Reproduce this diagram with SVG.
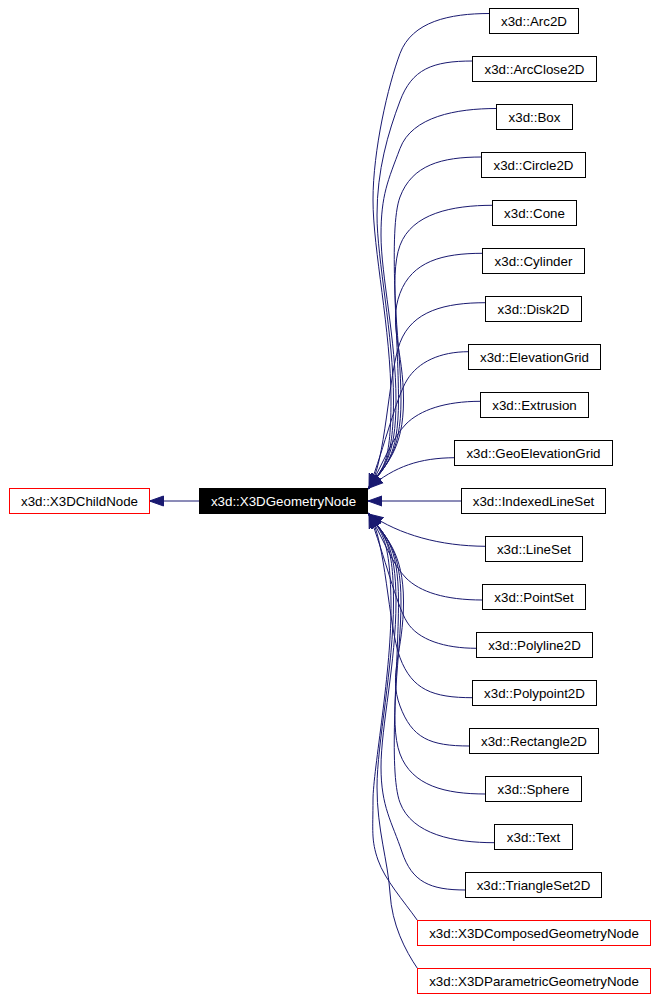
<svg xmlns="http://www.w3.org/2000/svg" width="658" height="999" viewBox="0 0 658 999">
<style>
.n{fill:#ffffff;stroke:#000000;stroke-width:1}
.r{fill:#ffffff;stroke:#ff0000;stroke-width:1}
.m{fill:#000000;stroke:#000000;stroke-width:1}
text{font-family:"Liberation Sans",Arial,sans-serif;font-size:13.33px;text-anchor:middle;fill:#000000}
.w{fill:#ffffff}
.e{fill:none;stroke:#191970;stroke-width:1;marker-end:url(#ah)}
</style>
<defs>
<marker id="ah" markerUnits="userSpaceOnUse" markerWidth="16" markerHeight="12" viewBox="0 0 16 12" refX="14" refY="6" orient="auto">
<path d="M0,1 L14,6 L0,11 z" fill="#191970" stroke="#191970" stroke-width="1"/>
</marker>
</defs>
<rect width="658" height="999" fill="#ffffff"/>
<g id="edges">
<path class="e" d="M199,501 L149.5,501"/>
<path class="e" d="M489.5,13.5 C449.5,13.5 412,21.5 400,53.5 S373,150 373,200 S391,330 391,400 S381,468 369,488"/>
<path class="e" d="M472.5,61 C432.5,61 412,69 400,101 S377,170 377,215 S393.5,335 393.5,400 S382,467 369,488"/>
<path class="e" d="M496.5,108.5 C456.5,108.5 412,116.5 400,148.5 S381,195 381,235 S396,340 396,400 S383,466 369,488"/>
<path class="e" d="M481.5,157 C441.5,157 412,165 400,197 S398.5,340 398.5,400 S384,466 369,488"/>
<path class="e" d="M492.5,205.3 C452.5,205.3 412,213.3 400,245.3 S401,345 401,400 S385,465 369,488"/>
<path class="e" d="M482.5,253.3 C442.5,253.3 412,261.3 400,293.3 S403.5,350 403.5,400 S386,464 369,488"/>
<path class="e" d="M485.5,302.7 C445.5,302.7 412,310.7 400,342.7 S386,463 369,488"/>
<path class="e" d="M468.5,351.7 C440,351.7 418,362 407,380 S385,445 369,488"/>
<path class="e" d="M480.5,401.3 C445,401.3 420,410 406,424 S384,462 369,488"/>
<path class="e" d="M454.5,457.7 C420,458 395,466 369,488"/>
<path class="e" d="M461.5,501 L368,501"/>
<path class="e" d="M485.5,546.3 C440,546 400,535 369,514"/>
<path class="e" d="M482.5,600 C445,600 420,592 406,578 S384,540 369,514"/>
<path class="e" d="M476.5,648.3 C445,648.3 418,640 407,622 S385,557 369,514"/>
<path class="e" d="M472.5,697.7 C432.5,697.7 412,689.7 400,657.7 S386,539 369,514"/>
<path class="e" d="M469.5,746 C429.5,746 412,738 400,706 S403.5,652 403.5,602 S386,538 369,514"/>
<path class="e" d="M485.5,794 C445.5,794 412,786 400,754 S401,657 401,602 S385,537 369,514"/>
<path class="e" d="M494.5,842.7 C454.5,842.7 412,834.7 400,802.7 S398.5,662 398.5,602 S384,536 369,514"/>
<path class="e" d="M465.5,890 C430,890 412,882 402,852 S381,807 381,767 S396,662 396,602 S383,535 369,514"/>
<path class="e" d="M417.5,920.5 C403,900 385,880 378,860 S373,830 373,800 S392,670 391,602 S380,532 369,514"/>
<path class="e" d="M417.5,968.5 C405,950 392,925 390,893 S377,830 377,787 S393.5,667 393.5,602 S382,534 369,514"/>
</g>
<g id="X3DChildNode"><rect class="r" x="9.5" y="488.5" width="140" height="25"/><text x="79.5" y="505.6">x3d::X3DChildNode</text></g>
<g id="X3DGeometryNode"><rect class="m" x="199.5" y="488.5" width="168" height="25"/><text class="w" x="283.5" y="505.6">x3d::X3DGeometryNode</text></g>
<g id="Arc2D"><rect class="n" x="489.5" y="8.5" width="89" height="25"/><text x="534" y="25.6">x3d::Arc2D</text></g>
<g id="ArcClose2D"><rect class="n" x="472.5" y="56.5" width="124" height="25"/><text x="534.5" y="73.6">x3d::ArcClose2D</text></g>
<g id="Box"><rect class="n" x="496.5" y="104.5" width="76" height="25"/><text x="534.5" y="121.6">x3d::Box</text></g>
<g id="Circle2D"><rect class="n" x="481.5" y="152.5" width="104" height="25"/><text x="533.5" y="169.6">x3d::Circle2D</text></g>
<g id="Cone"><rect class="n" x="492.5" y="200.5" width="84" height="25"/><text x="534.5" y="217.6">x3d::Cone</text></g>
<g id="Cylinder"><rect class="n" x="482.5" y="248.5" width="102" height="25"/><text x="533.5" y="265.6">x3d::Cylinder</text></g>
<g id="Disk2D"><rect class="n" x="485.5" y="296.5" width="96" height="25"/><text x="533.5" y="313.6">x3d::Disk2D</text></g>
<g id="ElevationGrid"><rect class="n" x="468.5" y="344.5" width="132" height="25"/><text x="534.5" y="361.6">x3d::ElevationGrid</text></g>
<g id="Extrusion"><rect class="n" x="480.5" y="392.5" width="108" height="25"/><text x="534.5" y="409.6">x3d::Extrusion</text></g>
<g id="GeoElevationGrid"><rect class="n" x="454.5" y="440.5" width="158" height="25"/><text x="533.5" y="457.6">x3d::GeoElevationGrid</text></g>
<g id="IndexedLineSet"><rect class="n" x="461.5" y="488.5" width="144" height="25"/><text x="533.5" y="505.6">x3d::IndexedLineSet</text></g>
<g id="LineSet"><rect class="n" x="485.5" y="536.5" width="97" height="25"/><text x="534" y="553.6">x3d::LineSet</text></g>
<g id="PointSet"><rect class="n" x="482.5" y="584.5" width="103" height="25"/><text x="534" y="601.6">x3d::PointSet</text></g>
<g id="Polyline2D"><rect class="n" x="476.5" y="632.5" width="116" height="25"/><text x="534.5" y="649.6">x3d::Polyline2D</text></g>
<g id="Polypoint2D"><rect class="n" x="472.5" y="680.5" width="124" height="25"/><text x="534.5" y="697.6">x3d::Polypoint2D</text></g>
<g id="Rectangle2D"><rect class="n" x="469.5" y="728.5" width="129" height="25"/><text x="534" y="745.6">x3d::Rectangle2D</text></g>
<g id="Sphere"><rect class="n" x="485.5" y="776.5" width="96" height="25"/><text x="533.5" y="793.6">x3d::Sphere</text></g>
<g id="Text"><rect class="n" x="494.5" y="824.5" width="78" height="25"/><text x="533.5" y="841.6">x3d::Text</text></g>
<g id="TriangleSet2D"><rect class="n" x="465.5" y="872.5" width="136" height="25"/><text x="533.5" y="889.6">x3d::TriangleSet2D</text></g>
<g id="X3DComposedGeometryNode"><rect class="r" x="417.5" y="920.5" width="233" height="25"/><text x="534" y="937.6">x3d::X3DComposedGeometryNode</text></g>
<g id="X3DParametricGeometryNode"><rect class="r" x="417.5" y="968.5" width="233" height="25"/><text x="534" y="985.6">x3d::X3DParametricGeometryNode</text></g>
</svg>
